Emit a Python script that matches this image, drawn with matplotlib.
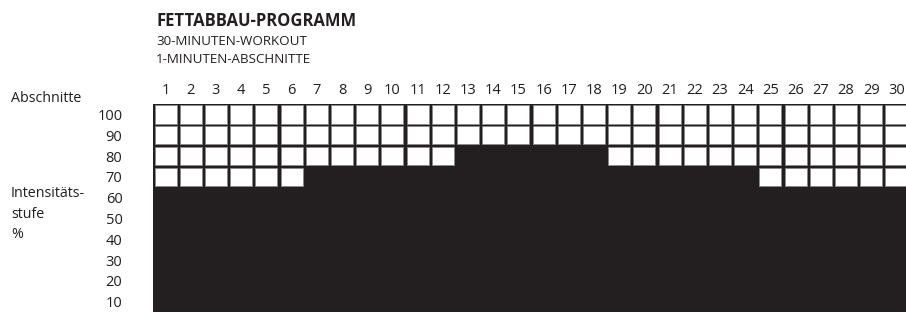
import matplotlib.pyplot as plt
from matplotlib.patches import Rectangle

# intensity level (%) for each of the 30 one-minute sections
sections = list(range(1, 31))
levels = [60, 60, 60, 60, 60, 60,
          70, 70, 70, 70, 70, 70,
          80, 80, 80, 80, 80, 80,
          70, 70, 70, 70, 70, 70,
          60, 60, 60, 60, 60, 60]
y_ticks = [10, 20, 30, 40, 50, 60, 70, 80, 90, 100]

title = 'FETTABBAU-PROGRAMM'
subtitle = ['30-MINUTEN-WORKOUT', '1-MINUTEN-ABSCHNITTE']
side_labels = ['Intensitäts-', 'stufe', '%']

plt.rcParams['font.family'] = ['Open Sans', 'DejaVu Sans']
dark = '#231f20'
W, H = 906, 312

fig = plt.figure(figsize=(W / 100, H / 100), dpi=100)
fig.patch.set_facecolor('white')

# grid area: reaches the bottom and runs slightly past the right edge
ax = fig.add_axes([153 / W, 0, 756 / W, 208 / H])
ax.set_facecolor(dark)
ax.set_xlim(0, 30)
ax.set_ylim(0, 100)

# white cells above the intensity level
cw, ch = 0.88, 8.8
for i, lev in enumerate(levels):
    for top in y_ticks:
        if top > lev:
            ax.add_patch(Rectangle((i + (1 - cw) / 2, top - 10 + (10 - ch) / 2), cw, ch,
                                   facecolor='white', edgecolor='#8a8a8a', lw=0.6))

for s in ax.spines.values():
    s.set_visible(False)

ax.xaxis.tick_top()
ax.set_xticks([s - 0.5 for s in sections])
ax.set_xticklabels([str(s) for s in sections])
ax.set_yticks([t - 5 for t in y_ticks])
ax.set_yticklabels([str(t) for t in y_ticks])
ax.tick_params(axis='x', length=0, pad=4, labelsize=10.5, colors=dark)
ax.tick_params(axis='y', length=0, pad=22, labelsize=10.5, colors=dark)

# headings (positions are baselines in pixels from the top)
fig.text(156 / W, 1 - 26 / H, title, fontsize=12, fontweight='bold',
         color=dark, va='baseline', ha='left')
fig.text(156 / W, 1 - 45 / H, subtitle[0], fontsize=9.6, color=dark,
         va='baseline', ha='left')
fig.text(156 / W, 1 - 63 / H, subtitle[1], fontsize=9.6, color=dark,
         va='baseline', ha='left')

fig.text(11 / W, 1 - 102 / H, 'Abschnitte', fontsize=10.3, color=dark,
         va='baseline', ha='left')
for lab, base in zip(side_labels, [197, 218, 238]):
    fig.text(11 / W, 1 - base / H, lab, fontsize=10.3, color=dark,
             va='baseline', ha='left')

fig.savefig('out.png', dpi=100)
